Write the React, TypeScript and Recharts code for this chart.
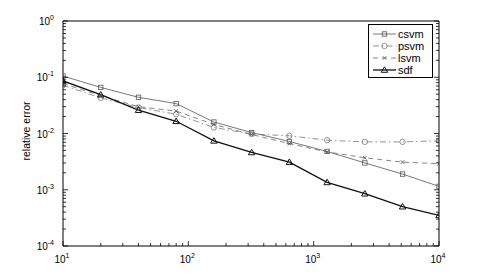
import React from 'react';
import { LineChart, Line, XAxis, YAxis, Legend } from 'recharts';

const xValues = [10, 20, 40, 80, 160, 320, 640, 1280, 2560, 5120, 10000];
const csvm = [0.105, 0.066, 0.044, 0.034, 0.016, 0.0104, 0.0072, 0.0048, 0.003, 0.0019, 0.00115];
const psvm = [0.072, 0.043, 0.029, 0.022, 0.0128, 0.0098, 0.0091, 0.0076, 0.0071, 0.0071, 0.0074];
const lsvm = [0.077, 0.047, 0.03, 0.025, 0.0145, 0.0096, 0.0066, 0.0047, 0.0037, 0.0031, 0.0029];
const sdf = [0.086, 0.049, 0.026, 0.0165, 0.0074, 0.0046, 0.0031, 0.00135, 0.00085, 0.0005, 0.00035];

const xDecades = [10, 100, 1000, 10000];
const yDecades = [0.0001, 0.001, 0.01, 0.1, 1];
const minorMultipliers = [2, 3, 4, 5, 6, 7, 8, 9];

const buildTicks = (decades: number[]) => {
  const out: number[] = [];
  decades.forEach((d, i) => {
    out.push(d);
    if (i < decades.length - 1) minorMultipliers.forEach((m) => out.push(d * m));
  });
  return out;
};
const xTicks = buildTicks(xDecades);
const yTicks = buildTicks(yDecades);

const data = xValues.map((x, i) => ({ x, csvm: csvm[i], psvm: psvm[i], lsvm: lsvm[i], sdf: sdf[i] }));

const FONT = '"Liberation Sans", Arial, Helvetica, sans-serif';

const isMajor = (v: number) => {
  const l = Math.log10(v);
  return Math.abs(l - Math.round(l)) < 1e-6;
};

const makeTick = (side: 'bottom' | 'top' | 'left' | 'right', withLabels: boolean) => (props: any) => {
  const { x, y, payload } = props;
  const v = payload.value;
  const major = isMajor(v);
  const len = major ? 5 : 3;
  let x2 = x, y2 = y;
  if (side === 'bottom') y2 = y - len;
  if (side === 'top') y2 = y + len;
  if (side === 'left') x2 = x + len;
  if (side === 'right') x2 = x - len;
  const exp = Math.round(Math.log10(v));
  let label = null;
  if (withLabels && major) {
    if (side === 'bottom') {
      label = (
        <text x={x - 1} y={y + 16.5} textAnchor="middle" fontSize={10} fontFamily={FONT} fill="#000">
          <tspan>10</tspan>
          <tspan dy={-5} fontSize={7}>{String(exp)}</tspan>
        </text>
      );
    } else if (side === 'left') {
      label = (
        <text x={x - 9} y={y + 4} textAnchor="end" fontSize={10} fontFamily={FONT} fill="#000">
          <tspan>10</tspan>
          <tspan dy={-5} fontSize={7}>{String(exp)}</tspan>
        </text>
      );
    }
  }
  return (
    <g>
      <line x1={x} y1={y} x2={x2} y2={y2} stroke="#000" strokeWidth={0.8} />
      {label}
    </g>
  );
};

const Square = (color: string) => (p: any) => {
  const { cx, cy, index } = p;
  if (cx == null || cy == null) return <g key={index} />;
  return <rect key={index} x={cx - 2.2} y={cy - 2.2} width={4.4} height={4.4} fill="none" stroke={color} strokeWidth={0.8} />;
};
const Circle = (color: string) => (p: any) => {
  const { cx, cy, index } = p;
  if (cx == null || cy == null) return <g key={index} />;
  return <circle key={index} cx={cx} cy={cy} r={2.7} fill="none" stroke={color} strokeWidth={0.8} />;
};
const Cross = (color: string) => (p: any) => {
  const { cx, cy, index } = p;
  if (cx == null || cy == null) return <g key={index} />;
  return (
    <path key={index} d={`M${cx - 1.8},${cy - 1.8}L${cx + 1.8},${cy + 1.8}M${cx - 1.8},${cy + 1.8}L${cx + 1.8},${cy - 1.8}`} stroke={color} strokeWidth={0.9} fill="none" />
  );
};
const Tri = (color: string) => (p: any) => {
  const { cx, cy, index } = p;
  if (cx == null || cy == null) return <g key={index} />;
  return <path key={index} d={`M${cx},${cy - 3.2}L${cx + 3.2},${cy + 2.3}L${cx - 3.2},${cy + 2.3}Z`} fill="none" stroke={color} strokeWidth={1} />;
};

const seriesStyle = [
  { key: 'csvm', stroke: '#555', width: 0.8, dash: undefined as string | undefined, marker: 'square' },
  { key: 'psvm', stroke: '#777', width: 0.8, dash: '6 3 1.5 3', marker: 'circle' },
  { key: 'lsvm', stroke: '#666', width: 0.8, dash: '5 4', marker: 'cross' },
  { key: 'sdf', stroke: '#111', width: 1.3, dash: undefined as string | undefined, marker: 'tri' },
];

const markerSvg = (m: string, cx: number, cy: number, color: string) => {
  const p = { cx, cy, index: 0 };
  if (m === 'square') return Square(color)(p);
  if (m === 'circle') return Circle(color)(p);
  if (m === 'cross') return Cross(color)(p);
  return Tri(color)(p);
};

const renderLegend = () => (
  <svg width={66} height={55} style={{ display: 'block' }}>
    <rect x={0.5} y={0.5} width={64} height={53} fill="#fff" stroke="#000" strokeWidth={1} />
    {seriesStyle.map((s, i) => {
      const cy = 10 + i * 12;
      return (
        <g key={s.key}>
          <line x1={5} y1={cy} x2={28} y2={cy} stroke={s.stroke} strokeWidth={s.width} strokeDasharray={s.dash} />
          {markerSvg(s.marker, 16.5, cy, s.stroke)}
          <text x={30} y={cy + 4} fontSize={11} fontFamily={FONT} fill="#000">{s.key}</text>
        </g>
      );
    })}
  </svg>
);

const YLabel = () => (
  <text x={30} y={131} transform="rotate(-90, 30, 131)" textAnchor="middle" fontSize={10.5} fontFamily={FONT} fill="#000">
    relative error
  </text>
);

export default function App() {
  return (
    <div style={{ position: 'absolute', left: 0, top: 0, width: 485, height: 277, background: '#fff' }}>
      <LineChart width={485} height={277} data={data} margin={{ top: 20, right: 45, bottom: 30, left: 62 }}>
        <XAxis
          xAxisId="b"
          dataKey="x"
          type="number"
          scale="log"
          domain={[10, 10000]}
          allowDataOverflow
          ticks={xTicks}
          interval={0}
          height={1}
          tickSize={0}
          tickMargin={0}
          tickLine={false}
          axisLine={{ stroke: '#000', strokeWidth: 1 }}
          tick={makeTick('bottom', true)}
        />
        <XAxis
          xAxisId="t"
          orientation="top"
          type="number"
          scale="log"
          domain={[10, 10000]}
          allowDataOverflow
          ticks={xTicks}
          interval={0}
          height={1}
          tickSize={0}
          tickMargin={0}
          tickLine={false}
          axisLine={{ stroke: '#000', strokeWidth: 1 }}
          tick={makeTick('top', false)}
        />
        <YAxis
          yAxisId="l"
          type="number"
          scale="log"
          domain={[0.0001, 1]}
          allowDataOverflow
          ticks={yTicks}
          interval={0}
          width={1}
          tickSize={0}
          tickMargin={0}
          tickLine={false}
          axisLine={{ stroke: '#000', strokeWidth: 1 }}
          tick={makeTick('left', true)}
          label={{ content: () => <YLabel /> }}
        />
        <YAxis
          yAxisId="r"
          orientation="right"
          type="number"
          scale="log"
          domain={[0.0001, 1]}
          allowDataOverflow
          ticks={yTicks}
          interval={0}
          width={1}
          tickSize={0}
          tickMargin={0}
          tickLine={false}
          axisLine={{ stroke: '#000', strokeWidth: 1 }}
          tick={makeTick('right', false)}
        />
        <Line xAxisId="b" yAxisId="l" dataKey="csvm" stroke="#555" strokeWidth={0.8} dot={Square('#555')} isAnimationActive={false} />
        <Line xAxisId="b" yAxisId="l" dataKey="psvm" stroke="#777" strokeWidth={0.8} strokeDasharray="6 3 1.5 3" dot={Circle('#777')} isAnimationActive={false} />
        <Line xAxisId="b" yAxisId="l" dataKey="lsvm" stroke="#666" strokeWidth={0.8} strokeDasharray="5 4" dot={Cross('#555')} isAnimationActive={false} />
        <Line xAxisId="b" yAxisId="l" dataKey="sdf" stroke="#111" strokeWidth={1.3} dot={Tri('#111')} isAnimationActive={false} />
        <Legend
          layout="horizontal"
          verticalAlign="middle"
          align="center"
          content={renderLegend}
          wrapperStyle={{ position: 'absolute', left: 368, top: 24, width: 66, height: 55 }}
        />
      </LineChart>
    </div>
  );
}
